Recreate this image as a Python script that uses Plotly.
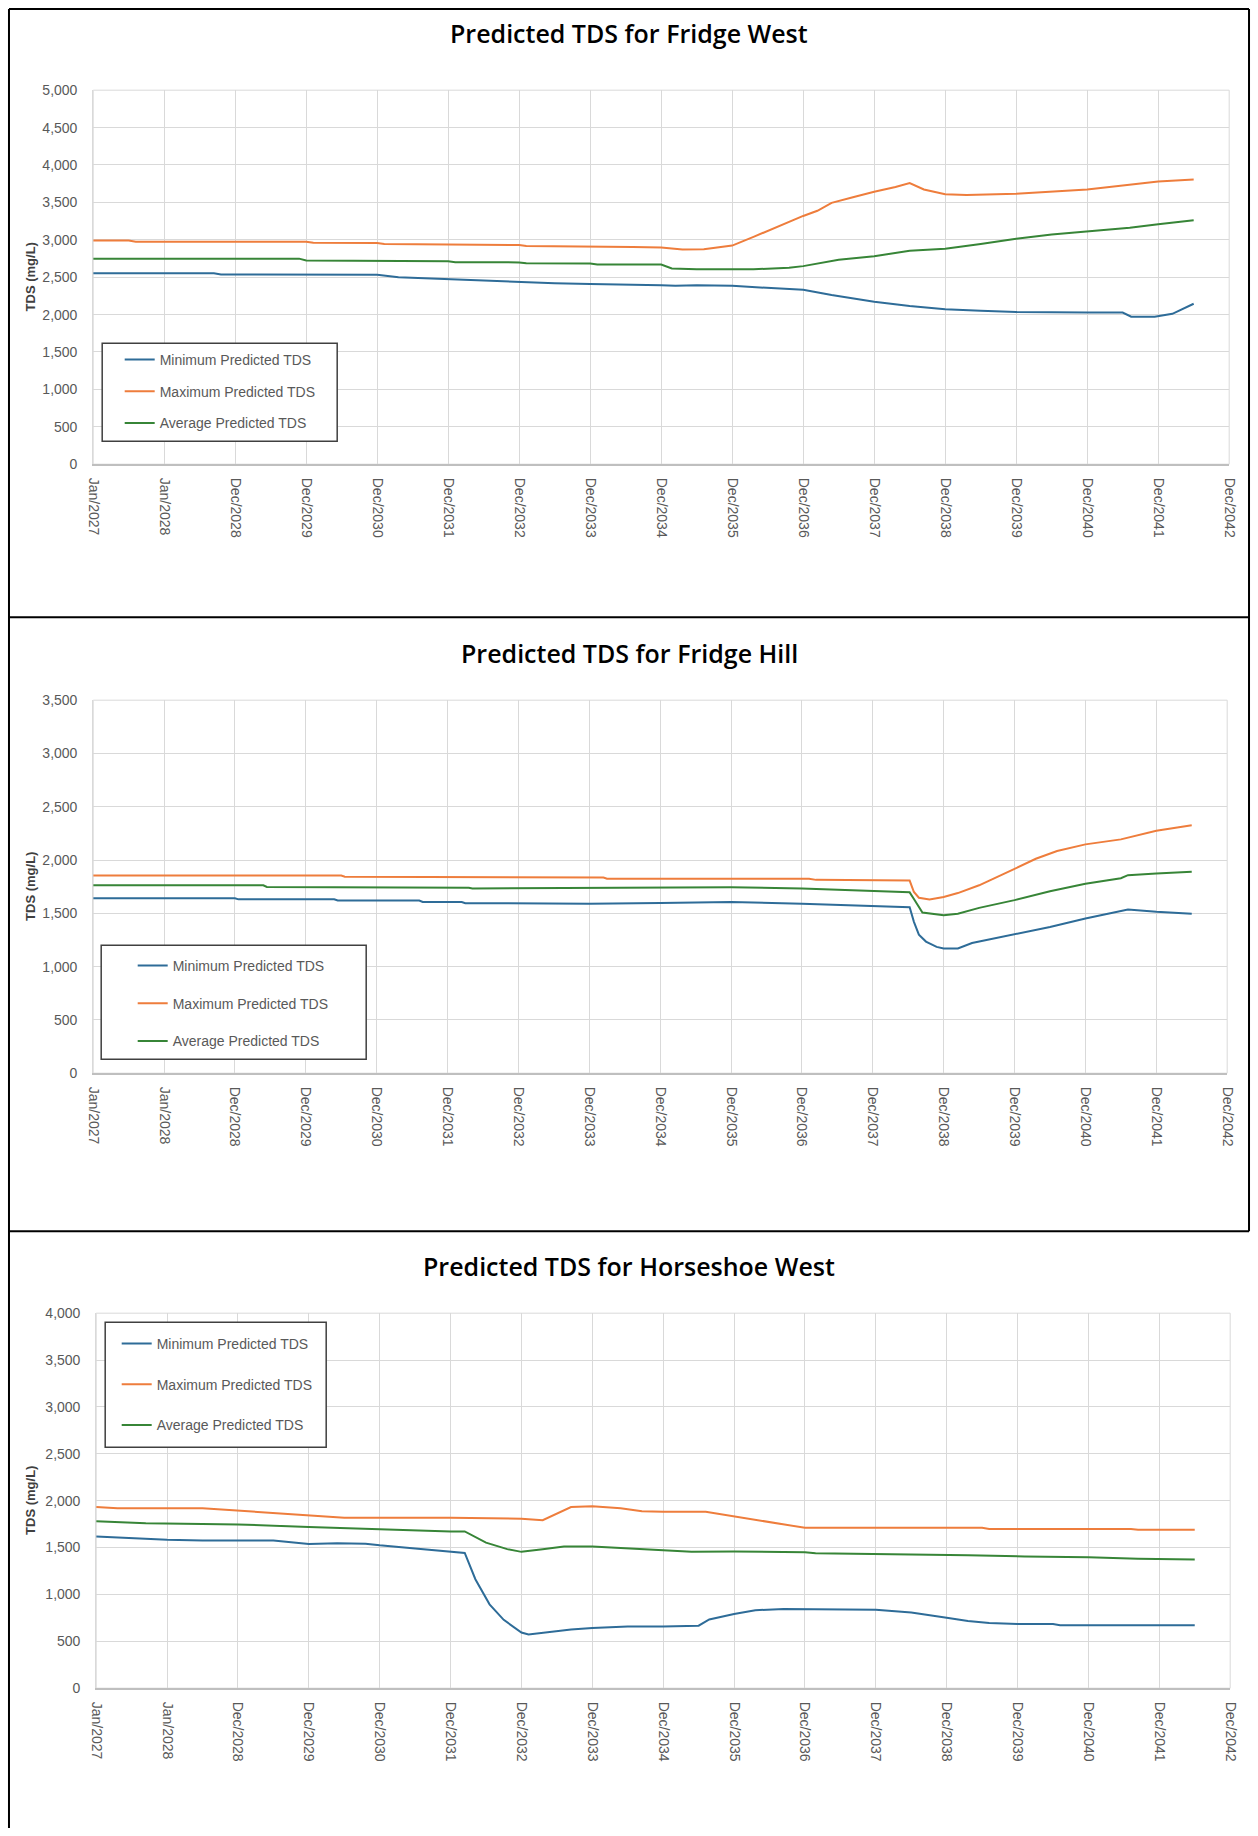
import plotly.graph_objects as go

W, H = 1258, 1836
# the photographed page is drawn with an ~8px frame and a slight down-scale;
# geometry below is given in reference-picture pixels and converted with these
S_X, S_Y, O = 0.9873, 0.9913, 7.8

# ---------------- data ----------------
TICK_TEXT = ["Jan/2027", "Jan/2028", "Dec/2028", "Dec/2029", "Dec/2030", "Dec/2031",
             "Dec/2032", "Dec/2033", "Dec/2034", "Dec/2035", "Dec/2036", "Dec/2037",
             "Dec/2038", "Dec/2039", "Dec/2040", "Dec/2041", "Dec/2042"]
TICK_POS = list(range(len(TICK_TEXT)))

SERIES = ["Minimum Predicted TDS", "Maximum Predicted TDS", "Average Predicted TDS"]
TITLES = ["Predicted TDS for Fridge West", "Predicted TDS for Fridge Hill",
          "Predicted TDS for Horseshoe West"]

# Fridge West
fw_min_x = [0, 1.0, 1.7, 1.8, 3.9, 4.0, 4.3, 5.0, 5.5, 6.0, 6.5, 7.0, 7.5, 8.0, 8.2, 8.5, 9.0,
            9.5, 10.0, 10.4, 11.0, 11.5, 12.0, 12.5, 13.0, 14.0, 14.5, 14.62, 14.95, 15.2, 15.5]
fw_min_y = [2553, 2553, 2553, 2537, 2537, 2532, 2500, 2474, 2460, 2437, 2420, 2410, 2405, 2394,
            2384, 2394, 2384, 2357, 2331, 2262, 2172, 2114, 2072, 2051, 2035, 2028, 2028, 1972,
            1972, 2010, 2145]
fw_max_x = [0, 0.5, 0.6, 3.0, 3.1, 4.0, 4.1, 5.0, 5.1, 6.0, 6.1, 7.0, 7.6, 8.0, 8.3, 8.6, 9.0,
            9.3, 9.6, 10.0, 10.2, 10.4, 10.7, 11.0, 11.3, 11.5, 11.7, 12.0, 12.3, 13.0, 14.0,
            14.5, 15.0, 15.5]
fw_max_y = [2990, 2990, 2975, 2975, 2960, 2958, 2944, 2942, 2933, 2930, 2918, 2915, 2905, 2896,
            2870, 2875, 2923, 3039, 3160, 3319, 3388, 3494, 3568, 3642, 3705, 3758, 3673, 3610,
            3600, 3615, 3673, 3731, 3779, 3805]
fw_avg_x = [0, 2.9, 3.0, 4.0, 4.1, 5.0, 5.1, 6.0, 6.1, 7.0, 7.1, 8.0, 8.15, 8.5, 9.0, 9.3, 9.8,
            10.0, 10.5, 11.0, 11.5, 12.0, 12.5, 13.0, 13.5, 14.0, 14.6, 15.0, 15.5]
fw_avg_y = [2748, 2748, 2722, 2720, 2717, 2712, 2700, 2698, 2685, 2683, 2669, 2669, 2616, 2606,
            2606, 2606, 2627, 2648, 2733, 2780, 2854, 2880, 2944, 3013, 3071, 3108, 3161, 3208,
            3261]

# Fridge Hill
fh_min_x = [0, 2.0, 2.05, 3.4, 3.45, 4.6, 4.65, 5.2, 5.25, 7.0, 8.0, 9.0, 10.0, 10.5, 11.0,
            11.52, 11.58, 11.65, 11.75, 11.9, 12.0, 12.2, 12.4, 13.0, 13.5, 14.0, 14.6, 15.0,
            15.5]
fh_min_y = [1642, 1642, 1631, 1631, 1620, 1620, 1606, 1606, 1595, 1591, 1598, 1606, 1591, 1580,
            1569, 1558, 1420, 1300, 1235, 1185, 1170, 1170, 1222, 1302, 1372, 1452, 1536, 1514,
            1496]
fh_max_x = [0, 3.5, 3.55, 4.9, 4.95, 7.2, 7.25, 10.1, 10.2, 11.0, 11.52, 11.58, 11.65, 11.8,
            12.0, 12.2, 12.5, 13.0, 13.3, 13.6, 14.0, 14.5, 15.0, 15.5]
fh_max_y = [1855, 1855, 1843, 1843, 1836, 1836, 1825, 1825, 1814, 1807, 1807, 1700, 1646, 1631,
            1653, 1690, 1763, 1917, 2012, 2085, 2147, 2194, 2275, 2326]
fh_avg_x = [0, 2.4, 2.45, 4.2, 4.25, 5.3, 5.35, 8.0, 9.0, 10.0, 10.3, 11.0, 11.52, 11.58, 11.7,
            12.0, 12.2, 12.5, 13.0, 13.5, 14.0, 14.5, 14.6, 15.0, 15.5]
fh_avg_y = [1763, 1763, 1748, 1748, 1741, 1741, 1734, 1737, 1745, 1734, 1726, 1712, 1697, 1635,
            1507, 1481, 1496, 1551, 1624, 1708, 1778, 1829, 1858, 1873, 1891]

# Horseshoe West
hw_min_x = [0, 1.0, 1.5, 2.5, 3.0, 3.4, 3.8, 4.0, 4.5, 5.0, 5.2, 5.35, 5.55, 5.75, 5.9, 6.0,
            6.1, 6.3, 6.7, 7.0, 7.5, 8.0, 8.5, 8.65, 9.0, 9.3, 9.7, 11.0, 11.5, 12.0, 12.3,
            12.6, 13.0, 13.5, 13.6, 15.5]
hw_min_y = [1619, 1582, 1574, 1574, 1537, 1545, 1541, 1524, 1491, 1458, 1442, 1162, 894, 729,
            647, 593, 573, 593, 626, 643, 659, 659, 667, 733, 791, 832, 844, 836, 807, 750, 717,
            696, 684, 684, 671, 671]
hw_max_x = [0, 0.3, 1.5, 2.0, 3.0, 3.5, 5.0, 5.6, 6.0, 6.3, 6.55, 6.7, 7.0, 7.4, 7.7, 8.0, 8.6,
            9.0, 9.5, 10.0, 12.5, 12.6, 14.6, 14.7, 15.5]
hw_max_y = [1932, 1920, 1920, 1895, 1850, 1817, 1817, 1808, 1808, 1792, 1879, 1932, 1940, 1920,
            1887, 1882, 1882, 1833, 1771, 1710, 1710, 1697, 1697, 1689, 1689]
hw_avg_x = [0, 0.7, 1.5, 2.0, 3.0, 3.5, 4.0, 5.0, 5.2, 5.5, 5.8, 6.0, 6.3, 6.6, 7.0, 7.5, 8.0,
            8.4, 9.0, 10.0, 10.15, 11.5, 12.3, 13.1, 14.0, 14.7, 15.1, 15.5]
hw_avg_y = [1780, 1759, 1751, 1747, 1718, 1705, 1697, 1672, 1672, 1553, 1483, 1454, 1483, 1512,
            1512, 1491, 1471, 1454, 1458, 1450, 1438, 1429, 1417, 1405, 1396, 1380, 1372, 1372]

Y_MAX = [5000, 3500, 4000]

# ---------------- styling / layout (reference-pixel geometry) ----------------
COLORS = ["#2E6C98", "#EE7D3C", "#378537"]
GRID = "#d9d9d9"
TICKCOL = "#595959"
FONT = "Liberation Sans, Arial, sans-serif"
TITLE_FONT = "Open Sans, DejaVu Sans, sans-serif"

PLOT_BOX = [  # left, top, right, bottom
    (93, 90, 1229, 464),
    (93, 700, 1227, 1073),
    (96, 1313, 1230, 1688),
]
TITLE_Y = [33, 653, 1266]
LEGEND_BOX = [(102, 343, 337, 441), (101, 945, 366, 1059), (105, 1322, 326, 1447)]
LEGEND_TEXT_X = [160, 173, 157]
LEGEND_FIRST_Y = [359, 965, 1343]
LEGEND_GAP = [10.5, 16.5, 19.5]


def page_x(r):
    return min(max((r - O) / S_X, 1), W - 1)


def page_y(r):
    return min(max((r - O) / S_Y, 1), H)


def px(r):
    return page_x(r) / W


def py(r):
    return 1 - page_y(r) / H


panels = [
    [(fw_min_x, fw_min_y), (fw_max_x, fw_max_y), (fw_avg_x, fw_avg_y)],
    [(fh_min_x, fh_min_y), (fh_max_x, fh_max_y), (fh_avg_x, fh_avg_y)],
    [(hw_min_x, hw_min_y), (hw_max_x, hw_max_y), (hw_avg_x, hw_avg_y)],
]

fig = go.Figure()
layout = dict(width=W, height=H, margin=dict(l=0, r=0, t=0, b=0), autosize=False,
              paper_bgcolor="white", plot_bgcolor="white", showlegend=True)
shapes = []
annotations = []

for i, series in enumerate(panels):
    sfx = "" if i == 0 else str(i + 1)
    leg = "legend" if i == 0 else f"legend{i + 1}"
    for j, (xs, ys) in enumerate(series):
        fig.add_trace(go.Scatter(
            x=xs, y=ys, mode="lines", name=SERIES[j],
            line=dict(color=COLORS[j], width=2),
            xaxis="x" + sfx, yaxis="y" + sfx, legend=leg,
            legendgroup=f"p{i}s{j}",
        ))
    l, t, r, b = PLOT_BOX[i]
    layout["xaxis" + sfx] = dict(
        domain=[px(l), px(r)], anchor="y" + sfx, range=[0, 16],
        tickmode="array", tickvals=TICK_POS, ticktext=TICK_TEXT, tickangle=90,
        showgrid=True, gridcolor=GRID, gridwidth=1, zeroline=False,
        showline=True, linecolor="#bfbfbf", linewidth=1.5, mirror=False,
        ticks="", ticklabelstandoff=9,
        tickfont=dict(family=FONT, size=14, color=TICKCOL),
    )
    layout["yaxis" + sfx] = dict(
        domain=[py(b), py(t)], anchor="x" + sfx, range=[0, Y_MAX[i]],
        dtick=500, tick0=0, tickformat=",d",
        showgrid=True, gridcolor=GRID, gridwidth=1, zeroline=False,
        showline=True, linecolor=GRID, linewidth=1, mirror=False,
        ticks="", ticklabelstandoff=12,
        tickfont=dict(family=FONT, size=14, color=TICKCOL),
    )
    shapes.append(dict(type="rect", xref="paper", yref="paper",
                       x0=px(l), x1=px(r), y0=py(b), y1=py(t),
                       line=dict(color=GRID, width=1), layer="below"))
    lx0, ly0, lx1, ly1 = LEGEND_BOX[i]
    shapes.append(dict(type="rect", xref="paper", yref="paper",
                       x0=px(lx0), x1=px(lx1), y0=py(ly1), y1=py(ly0),
                       line=dict(color="#404040", width=1.5), fillcolor="white",
                       layer="above"))
    layout[leg] = dict(
        x=px(LEGEND_TEXT_X[i] - 40.5), y=py(LEGEND_FIRST_Y[i] - 15.2),
        xanchor="left", yanchor="top", bgcolor="rgba(0,0,0,0)", borderwidth=0,
        font=dict(family=FONT, size=14, color=TICKCOL),
        tracegroupgap=LEGEND_GAP[i], itemwidth=30, traceorder="grouped",
    )
    annotations.append(dict(text=TITLES[i], xref="paper", yref="paper",
                            x=px(629), y=py(TITLE_Y[i]), xanchor="center",
                            yanchor="middle", showarrow=False,
                            font=dict(family=TITLE_FONT, size=25, color="black", weight=600)))
    annotations.append(dict(text="TDS (mg/L)", xref="paper", yref="paper",
                            x=px(30), y=py((t + b) / 2), xanchor="center",
                            yanchor="middle", textangle=-90, showarrow=False,
                            font=dict(family=FONT, size=13, color="#404040", weight="bold")))

# panel frame lines
BL = dict(color="black", width=2)
shapes += [
    dict(type="line", xref="paper", yref="paper", x0=px(4), x1=px(1256), y0=py(5), y1=py(5), line=BL),
    dict(type="line", xref="paper", yref="paper", x0=px(4), x1=px(4), y0=py(5), y1=py(1836), line=BL),
    dict(type="line", xref="paper", yref="paper", x0=px(1256), x1=px(1256), y0=py(5), y1=py(1231), line=BL),
    dict(type="line", xref="paper", yref="paper", x0=px(4), x1=px(1256), y0=py(617), y1=py(617), line=BL),
    dict(type="line", xref="paper", yref="paper", x0=px(4), x1=px(1256), y0=py(1231), y1=py(1231), line=BL),
]

layout["shapes"] = shapes
layout["annotations"] = annotations
fig.update_layout(**layout)

fig.write_html("out.html", config={"displayModeBar": False},
               post_script="document.body.style.margin='0';document.body.style.overflow='hidden';")
